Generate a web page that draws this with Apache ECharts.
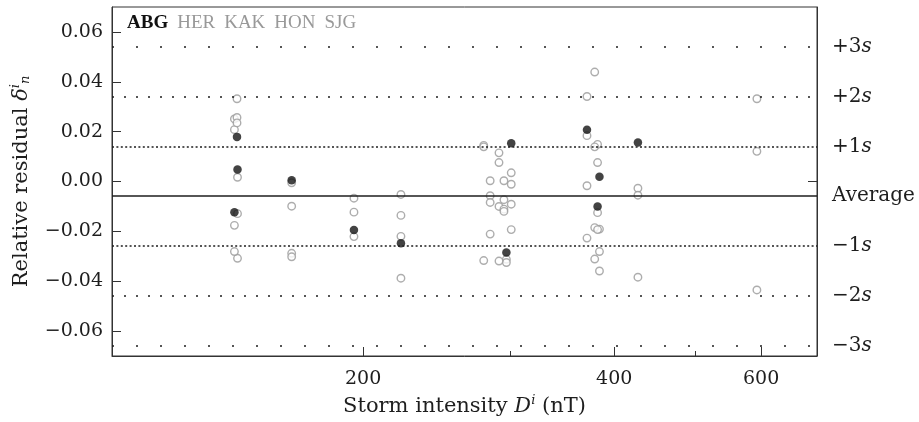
<!DOCTYPE html>
<html>
<head>
<meta charset="utf-8">
<title>Relative residual vs storm intensity</title>
<script src="https://cdn.jsdelivr.net/npm/echarts@6.0.0/dist/echarts.min.js"></script>
<style>
  html, body { margin: 0; padding: 0; background: #fff; }
  #chart { width: 919px; height: 422px; }
</style>
</head>
<body>
<div id="chart"></div>
<script>
"use strict";

// storm intensity D (nT), one entry per storm
var stormD = [141.2, 141.4, 140.2, 164.2, 195, 222, 279, 284, 291, 295, 297, 301, 371, 379, 382, 384, 427, 593];

// relative residual of each station for the storms above (null = no value)
var abgResid = [0.0179, 0.0048, -0.0123, 0.0005, -0.0195, -0.0248, null, null, null, null, -0.0285, 0.0153, 0.0208, null, -0.0100, 0.0019, 0.0156, null];
var herResid = [0.0332, 0.0017, 0.0251, -0.0005, -0.0067, -0.0052, 0.0145, 0.0003, 0.0115, 0.0003, -0.0312, 0.0035, 0.0341, 0.0439, 0.0149, -0.0191, -0.0027, 0.0332];
var kakResid = [0.0257, -0.0129, 0.0208, -0.0099, -0.0123, -0.0136, 0.0139, -0.0057, 0.0076, -0.0073, -0.0325, -0.0011, 0.0184, 0.0139, 0.0076, -0.0281, -0.0055, 0.0121];
var honResid = [0.0235, -0.0308, -0.0176, -0.0288, -0.0221, -0.0220, -0.0317, -0.0084, -0.0100, -0.0111, null, -0.0091, -0.0017, -0.0185, -0.0125, -0.0359, -0.0384, -0.0435];
var sjgResid = [null, null, -0.0281, -0.0302, null, -0.0388, null, -0.0211, -0.0319, -0.0120, null, -0.0193, -0.0227, -0.0311, -0.0193, null, null, null];

// mean and spread of the residuals
var avgResid = -0.0059;
var sdResid = 0.02;
var sigmaSteps = [3, 2, 1, 0, -1, -2, -3];

// axis ticks
var xMajorTicks = [200, 400, 600];
var xMinorTicks = [300, 500, 700];
var yTicks = [-0.06, -0.04, -0.02, 0, 0.02, 0.04, 0.06];

var serif = "DejaVu Serif";
var ink = "#1e1e1e";
var grey = "#999999";

function pairs(resid) {
    var out = [];
    for (var i = 0; i < stormD.length; i++) {
        if (resid[i] !== null) out.push([stormD[i], resid[i]]);
    }
    return out;
}

function minus(str) {
    return str.replace("-", "\u2212");
}

// dotted style gets sparser the further from the mean
function sigmaDash(k) {
    var a = Math.abs(k);
    if (a === 0) return "solid";
    if (a === 1) return [2, 2.4];
    if (a === 2) return [2, 10];
    return [2, 22];
}

var sigmaValues = sigmaSteps.map(function (k) { return avgResid + k * sdResid; });
var sigmaLines = sigmaSteps.map(function (k, i) {
    return {
        yAxis: sigmaValues[i],
        lineStyle: {color: ink, width: 1.5, type: sigmaDash(k)}
    };
});

function greySeries(name, resid, withLines) {
    var s = {
        name: name,
        type: "scatter",
        xAxisIndex: 0,
        yAxisIndex: 0,
        symbol: "circle",
        symbolSize: 7.5,
        itemStyle: {color: "#fff", borderColor: grey, borderWidth: 1.4},
        data: pairs(resid),
        z: 3
    };
    if (withLines) {
        s.markLine = {
            silent: true,
            precision: 6,
            symbol: ["none", "none"],
            label: {show: false},
            animation: false,
            data: sigmaLines
        };
    }
    return s;
}

var chart = echarts.init(document.getElementById("chart"));

var option = {
    animation: false,
    backgroundColor: "#fff",
    grid: {left: 112, right: 102, top: 7, bottom: 64, show: true, borderColor: "#333", borderWidth: 1},
    legend: {
        left: 117,
        top: 9,
        icon: "none",
        itemWidth: 0,
        itemHeight: 0,
        itemGap: 4,
        selectedMode: false,
        textStyle: {fontFamily: "Liberation Serif", fontSize: 19, color: grey},
        data: [
            {name: "ABG", textStyle: {color: "#111", fontWeight: "bold"}},
            {name: "HER"}, {name: "KAK"}, {name: "HON"}, {name: "SJG"}
        ]
    },
    xAxis: [{
        type: "log",
        min: 100,
        max: 700,
        position: "bottom",
        axisLine: {show: true, onZero: false, lineStyle: {color: "#333"}},
        axisTick: {show: true, inside: true, length: 9, customValues: xMajorTicks, lineStyle: {color: "#333"}},
        axisLabel: {
            customValues: xMajorTicks,
            margin: 14,
            fontFamily: serif,
            fontSize: 19,
            color: ink
        },
        splitLine: {show: false},
        minorTick: {show: false},
        name: "Storm intensity {it|D}{sup|i} (nT)",
        nameLocation: "middle",
        nameGap: 38,
        nameTextStyle: {
            fontFamily: serif, fontSize: 21, color: ink,
            rich: {
                it: {fontFamily: serif, fontSize: 21, fontStyle: "italic", color: ink},
                sup: {fontFamily: serif, fontSize: 13, fontStyle: "italic", color: ink, padding: [0, 0, 12, 0]}
            }
        }
    }, {
        type: "log",
        min: 100,
        max: 700,
        position: "bottom",
        axisLine: {show: false, onZero: false},
        axisTick: {show: true, inside: true, length: 5, customValues: xMinorTicks, lineStyle: {color: "#333"}},
        axisLabel: {show: false},
        splitLine: {show: false}
    }],
    yAxis: [{
        type: "value",
        min: -0.07,
        max: 0.07,
        position: "left",
        axisLine: {show: true, onZero: false, lineStyle: {color: "#333"}},
        axisTick: {show: true, inside: true, length: 9, customValues: yTicks, lineStyle: {color: "#333"}},
        axisLabel: {
            customValues: yTicks,
            margin: 9,
            fontFamily: serif,
            fontSize: 19,
            color: ink,
            formatter: function (v) { return minus(v.toFixed(2)); }
        },
        splitLine: {show: false},
        name: "Relative residual {it|\u03b4}{sup|i}{sub|n}",
        nameLocation: "middle",
        nameRotate: 90,
        nameGap: 78,
        nameTextStyle: {
            fontFamily: serif, fontSize: 21, color: ink,
            rich: {
                it: {fontFamily: serif, fontSize: 21, fontStyle: "italic", color: ink},
                sup: {fontFamily: serif, fontSize: 13, fontStyle: "italic", color: ink, padding: [0, 0, 12, 0]},
                sub: {fontFamily: serif, fontSize: 13, fontStyle: "italic", color: ink, padding: [9, 0, 0, 0]}
            }
        }
    }, {
        type: "value",
        min: -0.07,
        max: 0.07,
        position: "right",
        axisLine: {show: true, onZero: false, lineStyle: {color: "#333"}},
        axisTick: {show: true, inside: true, length: 9, customValues: [0], lineStyle: {color: "#333"}},
        axisLabel: {
            customValues: sigmaValues,
            margin: 15,
            fontFamily: serif,
            fontSize: 20,
            color: ink,
            formatter: function (v) {
                var k = Math.round((v - avgResid) / sdResid);
                if (k === 0) return "Average";
                return (k > 0 ? "+" : "\u2212") + Math.abs(k) + "{it|s}";
            },
            rich: {
                it: {fontFamily: serif, fontSize: 20, fontStyle: "italic", color: ink}
            }
        },
        splitLine: {show: false}
    }],
    series: [
        greySeries("HER", herResid, true),
        greySeries("KAK", kakResid, false),
        greySeries("HON", honResid, false),
        greySeries("SJG", sjgResid, false),
        {
            name: "ABG",
            type: "scatter",
            xAxisIndex: 0,
            yAxisIndex: 0,
            symbol: "circle",
            symbolSize: 8.5,
            itemStyle: {color: "#141414"},
            data: pairs(abgResid),
            z: 4
        }
    ]
};

chart.setOption(option);
</script>
</body>
</html>
